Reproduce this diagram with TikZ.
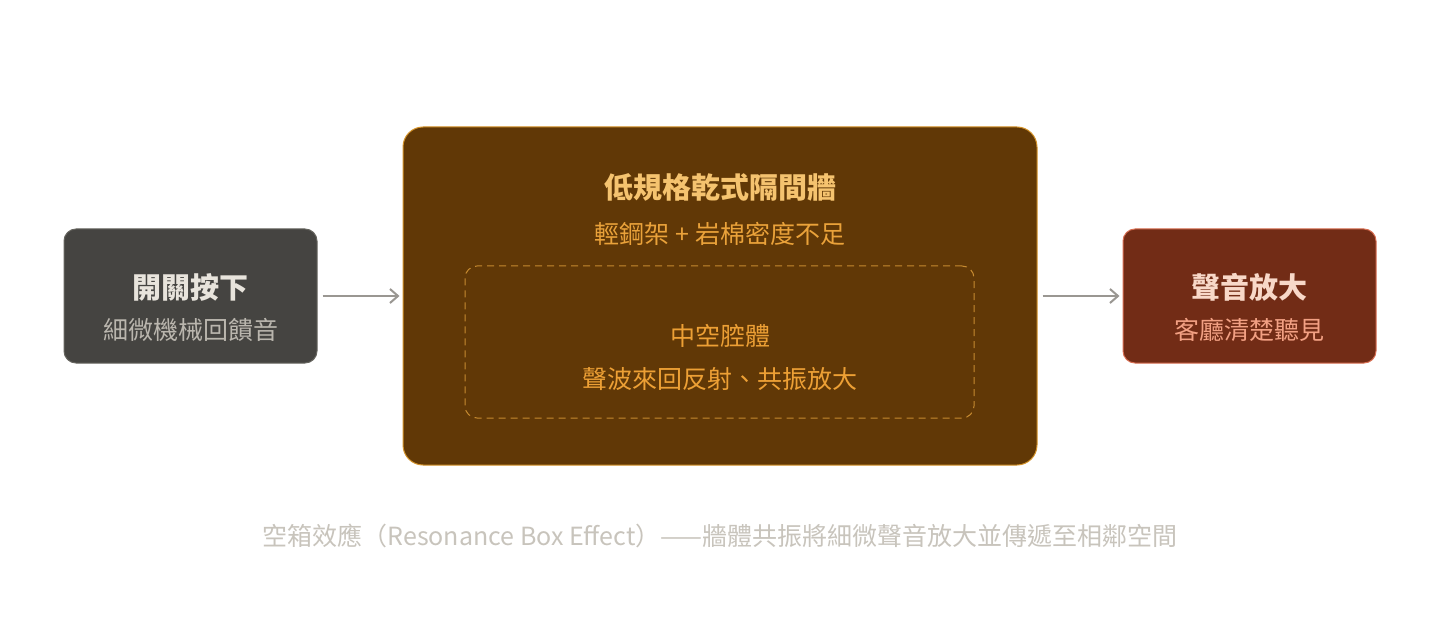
\documentclass[tikz,border=0pt]{standalone}
\usepackage{fontspec}
\setmainfont{Noto Sans CJK TC}
\usetikzlibrary{arrows.meta}
\definecolor{leftfill}{HTML}{454441}
\definecolor{leftdraw}{HTML}{66655F}
\definecolor{lefttitle}{HTML}{E8E4DC}
\definecolor{leftsub}{HTML}{BAB6AE}
\definecolor{midfill}{HTML}{613806}
\definecolor{middraw}{HTML}{D4932A}
\definecolor{midtitle}{HTML}{F5C36F}
\definecolor{midsub}{HTML}{EAA23A}
\definecolor{middash}{HTML}{C68A30}
\definecolor{midinner}{HTML}{EDA035}
\definecolor{rightfill}{HTML}{722C16}
\definecolor{rightdraw}{HTML}{D86E52}
\definecolor{righttitle}{HTML}{F8D8C8}
\definecolor{rightsub}{HTML}{F2A083}
\definecolor{arrowcol}{HTML}{9A9792}
\definecolor{captioncol}{HTML}{C8C4BC}
\begin{document}
\begin{tikzpicture}[x=1pt,y=-1pt,
  sidebox/.style={draw, line width=1pt, rounded corners=12pt, minimum width=253pt, minimum height=134pt, inner sep=0pt},
  bigbox/.style={draw, line width=1pt, rounded corners=20pt, minimum width=634pt, minimum height=338pt, inner sep=0pt},
  dashbox/.style={draw=middash, line width=1pt, dash pattern=on 7pt off 5pt, rounded corners=12pt, minimum width=509pt, minimum height=152pt, inner sep=0pt},
  titletext/.style={font=\fontsize{29}{33}\selectfont\bfseries, anchor=center, inner sep=0pt},
  subtext/.style={font=\fontsize{25}{29}\selectfont, anchor=center, inner sep=0pt},
  flow/.style={draw=arrowcol, line width=2pt, -{Straight Barb[length=8pt,width=14pt,line width=2pt]}}
]
\useasboundingbox (0,0) rectangle (1440,636);
\fill[white] (0,0) rectangle (1440,636);
% left box
\node[sidebox, draw=leftdraw, fill=leftfill] (left) at (190.5,296) {};
\node[titletext, text=lefttitle] (lefttitle) at (190.5,287) {開關按下};
\node[subtext, text=leftsub] (leftsub) at (190.5,330) {細微機械回饋音};
% center box
\node[bigbox, draw=middraw, fill=midfill] (mid) at (720,296) {};
\node[titletext, text=midtitle] (midtitle) at (720,187) {低規格乾式隔間牆};
\node[subtext, text=midsub] (midsub) at (720,234) {輕鋼架 + 岩棉密度不足};
\node[dashbox] (cavity) at (719.5,342) {};
\node[subtext, text=midinner] (cavtitle) at (720,336) {中空腔體};
\node[subtext, text=midinner] (cavsub) at (720,379) {聲波來回反射、共振放大};
% right box
\node[sidebox, draw=rightdraw, fill=rightfill] (right) at (1249.5,296) {};
\node[titletext, text=righttitle] (righttitle) at (1249.5,287) {聲音放大};
\node[subtext, text=rightsub] (rightsub) at (1249.5,330) {客廳清楚聽見};
% arrows
\draw[flow] ([xshift=5pt]left.east) -- ([xshift=-3pt]mid.west);
\draw[flow] ([xshift=5pt]mid.east) -- ([xshift=-3pt]right.west);
% caption
\node[subtext, text=captioncol] (caption) at (720,536) {空箱效應（Resonance Box Effect）——牆體共振將細微聲音放大並傳遞至相鄰空間};
\end{tikzpicture}
\end{document}
